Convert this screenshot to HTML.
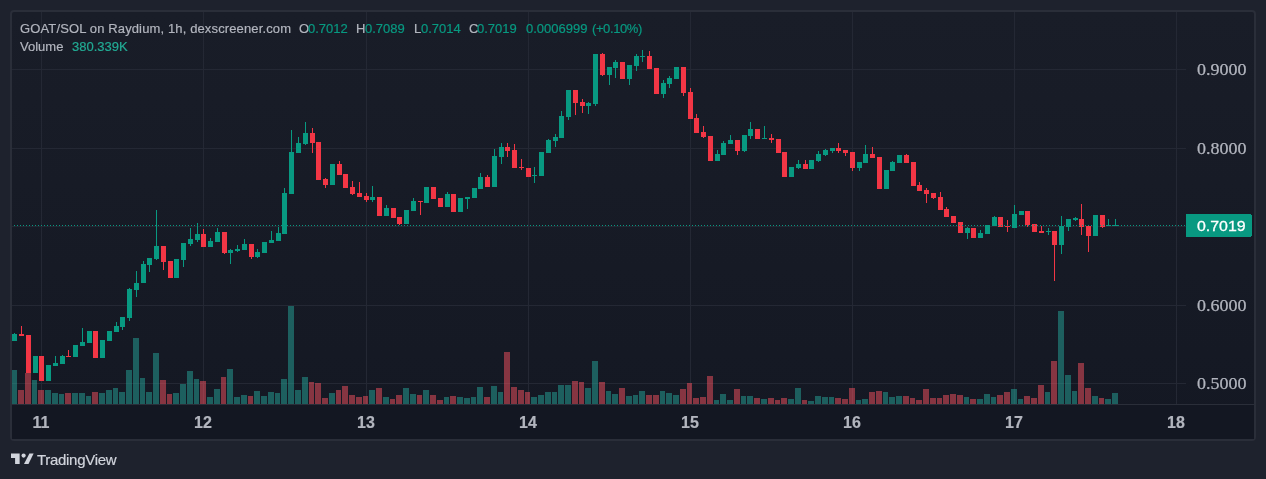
<!DOCTYPE html>
<html><head><meta charset="utf-8"><style>
html,body{margin:0;padding:0;width:1266px;height:479px;overflow:hidden;background:#1e222d;}
#pane{position:absolute;left:10px;top:10px;width:1242px;height:427px;border:2px solid #2a2e39;border-radius:4px;overflow:hidden;
background:linear-gradient(to bottom,#191d28 0%,#141823 100%);}
svg{position:absolute;left:0;top:0;}
.t{position:absolute;font-family:"Liberation Sans",sans-serif;white-space:nowrap;will-change:transform;-webkit-text-stroke:0.2px currentColor;}
</style></head><body>
<div id="pane"></div>
<svg width="1266" height="479" viewBox="0 0 1266 479" shape-rendering="crispEdges">
<rect x="12" y="404" width="1242" height="1" fill="#2a2e39"/>
<rect x="12" y="405" width="1242" height="34" fill="#131722"/>
<rect x="12" y="69" width="1174" height="1" fill="#242834"/>
<rect x="12" y="148" width="1174" height="1" fill="#242834"/>
<rect x="12" y="226" width="1174" height="1" fill="#242834"/>
<rect x="12" y="305" width="1174" height="1" fill="#242834"/>
<rect x="12" y="383" width="1174" height="1" fill="#242834"/>
<rect x="41" y="12" width="1" height="392" fill="#242834"/>
<rect x="203" y="12" width="1" height="392" fill="#242834"/>
<rect x="366" y="12" width="1" height="392" fill="#242834"/>
<rect x="528" y="12" width="1" height="392" fill="#242834"/>
<rect x="690" y="12" width="1" height="392" fill="#242834"/>
<rect x="852" y="12" width="1" height="392" fill="#242834"/>
<rect x="1014" y="12" width="1" height="392" fill="#242834"/>
<rect x="1176" y="12" width="1" height="392" fill="#242834"/>
<rect x="12" y="370" width="5" height="34" fill="rgba(38,166,154,0.5)"/>
<rect x="18" y="390" width="6" height="14" fill="rgba(247,82,95,0.5)"/>
<rect x="25" y="373" width="6" height="31" fill="rgba(247,82,95,0.5)"/>
<rect x="32" y="380" width="5" height="24" fill="rgba(38,166,154,0.5)"/>
<rect x="38" y="390" width="6" height="14" fill="rgba(247,82,95,0.5)"/>
<rect x="45" y="390" width="6" height="14" fill="rgba(38,166,154,0.5)"/>
<rect x="52" y="393" width="6" height="11" fill="rgba(38,166,154,0.5)"/>
<rect x="59" y="394" width="5" height="10" fill="rgba(38,166,154,0.5)"/>
<rect x="65" y="393" width="6" height="11" fill="rgba(247,82,95,0.5)"/>
<rect x="72" y="393" width="6" height="11" fill="rgba(38,166,154,0.5)"/>
<rect x="79" y="393" width="6" height="11" fill="rgba(38,166,154,0.5)"/>
<rect x="86" y="396" width="5" height="8" fill="rgba(38,166,154,0.5)"/>
<rect x="92" y="392" width="6" height="12" fill="rgba(247,82,95,0.5)"/>
<rect x="99" y="393" width="6" height="11" fill="rgba(38,166,154,0.5)"/>
<rect x="106" y="390" width="6" height="14" fill="rgba(38,166,154,0.5)"/>
<rect x="113" y="388" width="5" height="16" fill="rgba(38,166,154,0.5)"/>
<rect x="119" y="392" width="6" height="12" fill="rgba(38,166,154,0.5)"/>
<rect x="126" y="370" width="6" height="34" fill="rgba(38,166,154,0.5)"/>
<rect x="133" y="338" width="6" height="66" fill="rgba(38,166,154,0.5)"/>
<rect x="140" y="378" width="5" height="26" fill="rgba(38,166,154,0.5)"/>
<rect x="146" y="392" width="6" height="12" fill="rgba(38,166,154,0.5)"/>
<rect x="153" y="353" width="6" height="51" fill="rgba(38,166,154,0.5)"/>
<rect x="160" y="380" width="6" height="24" fill="rgba(247,82,95,0.5)"/>
<rect x="167" y="394" width="5" height="10" fill="rgba(247,82,95,0.5)"/>
<rect x="173" y="393" width="6" height="11" fill="rgba(38,166,154,0.5)"/>
<rect x="180" y="384" width="6" height="20" fill="rgba(38,166,154,0.5)"/>
<rect x="187" y="371" width="6" height="33" fill="rgba(38,166,154,0.5)"/>
<rect x="194" y="379" width="5" height="25" fill="rgba(38,166,154,0.5)"/>
<rect x="200" y="381" width="6" height="23" fill="rgba(247,82,95,0.5)"/>
<rect x="207" y="397" width="6" height="7" fill="rgba(38,166,154,0.5)"/>
<rect x="214" y="389" width="6" height="15" fill="rgba(38,166,154,0.5)"/>
<rect x="221" y="377" width="5" height="27" fill="rgba(247,82,95,0.5)"/>
<rect x="227" y="369" width="6" height="35" fill="rgba(38,166,154,0.5)"/>
<rect x="234" y="397" width="6" height="7" fill="rgba(38,166,154,0.5)"/>
<rect x="241" y="395" width="6" height="9" fill="rgba(38,166,154,0.5)"/>
<rect x="248" y="396" width="5" height="8" fill="rgba(247,82,95,0.5)"/>
<rect x="254" y="391" width="6" height="13" fill="rgba(38,166,154,0.5)"/>
<rect x="261" y="396" width="6" height="8" fill="rgba(38,166,154,0.5)"/>
<rect x="268" y="392" width="6" height="12" fill="rgba(38,166,154,0.5)"/>
<rect x="275" y="393" width="5" height="11" fill="rgba(38,166,154,0.5)"/>
<rect x="281" y="379" width="6" height="25" fill="rgba(38,166,154,0.5)"/>
<rect x="288" y="306" width="6" height="98" fill="rgba(38,166,154,0.5)"/>
<rect x="295" y="390" width="6" height="14" fill="rgba(38,166,154,0.5)"/>
<rect x="302" y="377" width="6" height="27" fill="rgba(38,166,154,0.5)"/>
<rect x="309" y="382" width="5" height="22" fill="rgba(247,82,95,0.5)"/>
<rect x="315" y="383" width="6" height="21" fill="rgba(247,82,95,0.5)"/>
<rect x="322" y="398" width="6" height="6" fill="rgba(247,82,95,0.5)"/>
<rect x="329" y="393" width="6" height="11" fill="rgba(38,166,154,0.5)"/>
<rect x="336" y="390" width="5" height="14" fill="rgba(247,82,95,0.5)"/>
<rect x="342" y="386" width="6" height="18" fill="rgba(247,82,95,0.5)"/>
<rect x="349" y="395" width="6" height="9" fill="rgba(247,82,95,0.5)"/>
<rect x="356" y="397" width="6" height="7" fill="rgba(247,82,95,0.5)"/>
<rect x="363" y="396" width="5" height="8" fill="rgba(247,82,95,0.5)"/>
<rect x="369" y="390" width="6" height="14" fill="rgba(38,166,154,0.5)"/>
<rect x="376" y="388" width="6" height="16" fill="rgba(247,82,95,0.5)"/>
<rect x="383" y="397" width="6" height="7" fill="rgba(38,166,154,0.5)"/>
<rect x="390" y="399" width="5" height="5" fill="rgba(247,82,95,0.5)"/>
<rect x="396" y="395" width="6" height="9" fill="rgba(247,82,95,0.5)"/>
<rect x="403" y="388" width="6" height="16" fill="rgba(38,166,154,0.5)"/>
<rect x="410" y="394" width="6" height="10" fill="rgba(38,166,154,0.5)"/>
<rect x="417" y="395" width="5" height="9" fill="rgba(247,82,95,0.5)"/>
<rect x="423" y="390" width="6" height="14" fill="rgba(38,166,154,0.5)"/>
<rect x="430" y="395" width="6" height="9" fill="rgba(247,82,95,0.5)"/>
<rect x="437" y="400" width="6" height="4" fill="rgba(247,82,95,0.5)"/>
<rect x="444" y="397" width="5" height="7" fill="rgba(38,166,154,0.5)"/>
<rect x="450" y="396" width="6" height="8" fill="rgba(247,82,95,0.5)"/>
<rect x="457" y="397" width="6" height="7" fill="rgba(38,166,154,0.5)"/>
<rect x="464" y="398" width="6" height="6" fill="rgba(38,166,154,0.5)"/>
<rect x="471" y="397" width="5" height="7" fill="rgba(38,166,154,0.5)"/>
<rect x="477" y="387" width="6" height="17" fill="rgba(38,166,154,0.5)"/>
<rect x="484" y="397" width="6" height="7" fill="rgba(247,82,95,0.5)"/>
<rect x="491" y="386" width="6" height="18" fill="rgba(38,166,154,0.5)"/>
<rect x="498" y="392" width="5" height="12" fill="rgba(38,166,154,0.5)"/>
<rect x="504" y="352" width="6" height="52" fill="rgba(247,82,95,0.5)"/>
<rect x="511" y="387" width="6" height="17" fill="rgba(247,82,95,0.5)"/>
<rect x="518" y="390" width="6" height="14" fill="rgba(247,82,95,0.5)"/>
<rect x="525" y="392" width="5" height="12" fill="rgba(247,82,95,0.5)"/>
<rect x="531" y="397" width="6" height="7" fill="rgba(38,166,154,0.5)"/>
<rect x="538" y="395" width="6" height="9" fill="rgba(38,166,154,0.5)"/>
<rect x="545" y="392" width="6" height="12" fill="rgba(38,166,154,0.5)"/>
<rect x="552" y="392" width="5" height="12" fill="rgba(38,166,154,0.5)"/>
<rect x="558" y="385" width="6" height="19" fill="rgba(38,166,154,0.5)"/>
<rect x="565" y="385" width="6" height="19" fill="rgba(38,166,154,0.5)"/>
<rect x="572" y="381" width="6" height="23" fill="rgba(247,82,95,0.5)"/>
<rect x="579" y="382" width="5" height="22" fill="rgba(247,82,95,0.5)"/>
<rect x="585" y="388" width="6" height="16" fill="rgba(38,166,154,0.5)"/>
<rect x="592" y="361" width="6" height="43" fill="rgba(38,166,154,0.5)"/>
<rect x="599" y="382" width="6" height="22" fill="rgba(247,82,95,0.5)"/>
<rect x="606" y="391" width="5" height="13" fill="rgba(38,166,154,0.5)"/>
<rect x="612" y="394" width="6" height="10" fill="rgba(38,166,154,0.5)"/>
<rect x="619" y="388" width="6" height="16" fill="rgba(247,82,95,0.5)"/>
<rect x="626" y="396" width="6" height="8" fill="rgba(38,166,154,0.5)"/>
<rect x="633" y="395" width="5" height="9" fill="rgba(38,166,154,0.5)"/>
<rect x="639" y="391" width="6" height="13" fill="rgba(38,166,154,0.5)"/>
<rect x="646" y="395" width="6" height="9" fill="rgba(247,82,95,0.5)"/>
<rect x="653" y="395" width="6" height="9" fill="rgba(247,82,95,0.5)"/>
<rect x="660" y="391" width="5" height="13" fill="rgba(38,166,154,0.5)"/>
<rect x="666" y="393" width="6" height="11" fill="rgba(38,166,154,0.5)"/>
<rect x="673" y="395" width="6" height="9" fill="rgba(38,166,154,0.5)"/>
<rect x="680" y="389" width="6" height="15" fill="rgba(247,82,95,0.5)"/>
<rect x="687" y="383" width="5" height="21" fill="rgba(247,82,95,0.5)"/>
<rect x="693" y="398" width="6" height="6" fill="rgba(247,82,95,0.5)"/>
<rect x="700" y="397" width="6" height="7" fill="rgba(247,82,95,0.5)"/>
<rect x="707" y="376" width="6" height="28" fill="rgba(247,82,95,0.5)"/>
<rect x="714" y="400" width="5" height="4" fill="rgba(38,166,154,0.5)"/>
<rect x="720" y="394" width="6" height="10" fill="rgba(38,166,154,0.5)"/>
<rect x="727" y="400" width="6" height="4" fill="rgba(38,166,154,0.5)"/>
<rect x="734" y="389" width="6" height="15" fill="rgba(247,82,95,0.5)"/>
<rect x="741" y="396" width="5" height="8" fill="rgba(38,166,154,0.5)"/>
<rect x="747" y="396" width="6" height="8" fill="rgba(38,166,154,0.5)"/>
<rect x="754" y="398" width="6" height="6" fill="rgba(247,82,95,0.5)"/>
<rect x="761" y="399" width="6" height="5" fill="rgba(38,166,154,0.5)"/>
<rect x="768" y="398" width="6" height="6" fill="rgba(247,82,95,0.5)"/>
<rect x="775" y="400" width="5" height="4" fill="rgba(247,82,95,0.5)"/>
<rect x="781" y="398" width="6" height="6" fill="rgba(247,82,95,0.5)"/>
<rect x="788" y="399" width="6" height="5" fill="rgba(38,166,154,0.5)"/>
<rect x="795" y="388" width="6" height="16" fill="rgba(38,166,154,0.5)"/>
<rect x="802" y="400" width="5" height="4" fill="rgba(247,82,95,0.5)"/>
<rect x="808" y="401" width="6" height="3" fill="rgba(38,166,154,0.5)"/>
<rect x="815" y="396" width="6" height="8" fill="rgba(38,166,154,0.5)"/>
<rect x="822" y="397" width="6" height="7" fill="rgba(38,166,154,0.5)"/>
<rect x="829" y="397" width="5" height="7" fill="rgba(38,166,154,0.5)"/>
<rect x="835" y="398" width="6" height="6" fill="rgba(247,82,95,0.5)"/>
<rect x="842" y="399" width="6" height="5" fill="rgba(247,82,95,0.5)"/>
<rect x="849" y="388" width="6" height="16" fill="rgba(247,82,95,0.5)"/>
<rect x="856" y="400" width="5" height="4" fill="rgba(38,166,154,0.5)"/>
<rect x="862" y="399" width="6" height="5" fill="rgba(38,166,154,0.5)"/>
<rect x="869" y="392" width="6" height="12" fill="rgba(247,82,95,0.5)"/>
<rect x="876" y="391" width="6" height="13" fill="rgba(247,82,95,0.5)"/>
<rect x="883" y="392" width="5" height="12" fill="rgba(38,166,154,0.5)"/>
<rect x="889" y="397" width="6" height="7" fill="rgba(38,166,154,0.5)"/>
<rect x="896" y="396" width="6" height="8" fill="rgba(38,166,154,0.5)"/>
<rect x="903" y="396" width="6" height="8" fill="rgba(247,82,95,0.5)"/>
<rect x="910" y="398" width="5" height="6" fill="rgba(247,82,95,0.5)"/>
<rect x="916" y="400" width="6" height="4" fill="rgba(247,82,95,0.5)"/>
<rect x="923" y="389" width="6" height="15" fill="rgba(247,82,95,0.5)"/>
<rect x="930" y="398" width="6" height="6" fill="rgba(247,82,95,0.5)"/>
<rect x="937" y="398" width="5" height="6" fill="rgba(247,82,95,0.5)"/>
<rect x="943" y="395" width="6" height="9" fill="rgba(247,82,95,0.5)"/>
<rect x="950" y="394" width="6" height="10" fill="rgba(247,82,95,0.5)"/>
<rect x="957" y="395" width="6" height="9" fill="rgba(247,82,95,0.5)"/>
<rect x="964" y="397" width="5" height="7" fill="rgba(38,166,154,0.5)"/>
<rect x="970" y="399" width="6" height="5" fill="rgba(247,82,95,0.5)"/>
<rect x="977" y="399" width="6" height="5" fill="rgba(38,166,154,0.5)"/>
<rect x="984" y="394" width="6" height="10" fill="rgba(38,166,154,0.5)"/>
<rect x="991" y="397" width="5" height="7" fill="rgba(38,166,154,0.5)"/>
<rect x="997" y="395" width="6" height="9" fill="rgba(247,82,95,0.5)"/>
<rect x="1004" y="392" width="6" height="12" fill="rgba(247,82,95,0.5)"/>
<rect x="1011" y="389" width="6" height="15" fill="rgba(38,166,154,0.5)"/>
<rect x="1018" y="399" width="5" height="5" fill="rgba(38,166,154,0.5)"/>
<rect x="1024" y="396" width="6" height="8" fill="rgba(247,82,95,0.5)"/>
<rect x="1031" y="398" width="6" height="6" fill="rgba(247,82,95,0.5)"/>
<rect x="1038" y="385" width="6" height="19" fill="rgba(247,82,95,0.5)"/>
<rect x="1045" y="392" width="5" height="12" fill="rgba(38,166,154,0.5)"/>
<rect x="1051" y="361" width="6" height="43" fill="rgba(247,82,95,0.5)"/>
<rect x="1058" y="311" width="6" height="93" fill="rgba(38,166,154,0.5)"/>
<rect x="1065" y="375" width="6" height="29" fill="rgba(38,166,154,0.5)"/>
<rect x="1072" y="391" width="5" height="13" fill="rgba(38,166,154,0.5)"/>
<rect x="1078" y="363" width="6" height="41" fill="rgba(247,82,95,0.5)"/>
<rect x="1085" y="388" width="6" height="16" fill="rgba(247,82,95,0.5)"/>
<rect x="1092" y="396" width="6" height="8" fill="rgba(38,166,154,0.5)"/>
<rect x="1099" y="398" width="5" height="6" fill="rgba(247,82,95,0.5)"/>
<rect x="1105" y="399" width="6" height="5" fill="rgba(38,166,154,0.5)"/>
<rect x="1112" y="393" width="6" height="11" fill="rgba(38,166,154,0.5)"/>
<rect x="14" y="333" width="1" height="8" fill="#089981"/>
<rect x="12" y="334" width="5" height="7" fill="#089981"/>
<rect x="21" y="326" width="1" height="10" fill="#f23645"/>
<rect x="19" y="334" width="5" height="2" fill="#f23645"/>
<rect x="28" y="335" width="1" height="38" fill="#f23645"/>
<rect x="26" y="335" width="5" height="38" fill="#f23645"/>
<rect x="35" y="356" width="1" height="17" fill="#089981"/>
<rect x="33" y="356" width="5" height="17" fill="#089981"/>
<rect x="41" y="356" width="1" height="25" fill="#f23645"/>
<rect x="39" y="356" width="5" height="25" fill="#f23645"/>
<rect x="48" y="365" width="1" height="16" fill="#089981"/>
<rect x="46" y="365" width="5" height="16" fill="#089981"/>
<rect x="55" y="356" width="1" height="10" fill="#089981"/>
<rect x="53" y="363" width="5" height="3" fill="#089981"/>
<rect x="62" y="355" width="1" height="9" fill="#089981"/>
<rect x="60" y="356" width="5" height="8" fill="#089981"/>
<rect x="68" y="350" width="1" height="7" fill="#f23645"/>
<rect x="66" y="356" width="5" height="1" fill="#f23645"/>
<rect x="75" y="345" width="1" height="12" fill="#089981"/>
<rect x="73" y="345" width="5" height="12" fill="#089981"/>
<rect x="82" y="328" width="1" height="18" fill="#089981"/>
<rect x="80" y="342" width="5" height="4" fill="#089981"/>
<rect x="89" y="331" width="1" height="12" fill="#089981"/>
<rect x="87" y="331" width="5" height="12" fill="#089981"/>
<rect x="95" y="331" width="1" height="27" fill="#f23645"/>
<rect x="93" y="331" width="5" height="27" fill="#f23645"/>
<rect x="102" y="340" width="1" height="18" fill="#089981"/>
<rect x="100" y="340" width="5" height="18" fill="#089981"/>
<rect x="109" y="331" width="1" height="10" fill="#089981"/>
<rect x="107" y="331" width="5" height="10" fill="#089981"/>
<rect x="116" y="322" width="1" height="10" fill="#089981"/>
<rect x="114" y="326" width="5" height="6" fill="#089981"/>
<rect x="122" y="317" width="1" height="13" fill="#089981"/>
<rect x="120" y="317" width="5" height="10" fill="#089981"/>
<rect x="129" y="288" width="1" height="33" fill="#089981"/>
<rect x="127" y="289" width="5" height="29" fill="#089981"/>
<rect x="136" y="271" width="1" height="26" fill="#089981"/>
<rect x="134" y="283" width="5" height="7" fill="#089981"/>
<rect x="143" y="261" width="1" height="22" fill="#089981"/>
<rect x="141" y="264" width="5" height="19" fill="#089981"/>
<rect x="149" y="258" width="1" height="14" fill="#089981"/>
<rect x="147" y="258" width="5" height="7" fill="#089981"/>
<rect x="156" y="210" width="1" height="50" fill="#089981"/>
<rect x="154" y="246" width="5" height="13" fill="#089981"/>
<rect x="163" y="246" width="1" height="24" fill="#f23645"/>
<rect x="161" y="246" width="5" height="16" fill="#f23645"/>
<rect x="170" y="261" width="1" height="17" fill="#f23645"/>
<rect x="168" y="261" width="5" height="17" fill="#f23645"/>
<rect x="176" y="259" width="1" height="19" fill="#089981"/>
<rect x="174" y="259" width="5" height="19" fill="#089981"/>
<rect x="183" y="243" width="1" height="24" fill="#089981"/>
<rect x="181" y="243" width="5" height="17" fill="#089981"/>
<rect x="190" y="228" width="1" height="18" fill="#089981"/>
<rect x="188" y="239" width="5" height="5" fill="#089981"/>
<rect x="197" y="223" width="1" height="19" fill="#089981"/>
<rect x="195" y="234" width="5" height="6" fill="#089981"/>
<rect x="203" y="229" width="1" height="18" fill="#f23645"/>
<rect x="201" y="234" width="5" height="13" fill="#f23645"/>
<rect x="210" y="238" width="1" height="9" fill="#089981"/>
<rect x="208" y="241" width="5" height="6" fill="#089981"/>
<rect x="217" y="228" width="1" height="14" fill="#089981"/>
<rect x="215" y="232" width="5" height="10" fill="#089981"/>
<rect x="224" y="232" width="1" height="22" fill="#f23645"/>
<rect x="222" y="232" width="5" height="21" fill="#f23645"/>
<rect x="230" y="249" width="1" height="15" fill="#089981"/>
<rect x="228" y="250" width="5" height="3" fill="#089981"/>
<rect x="237" y="245" width="1" height="7" fill="#089981"/>
<rect x="235" y="249" width="5" height="2" fill="#089981"/>
<rect x="244" y="239" width="1" height="11" fill="#089981"/>
<rect x="242" y="244" width="5" height="6" fill="#089981"/>
<rect x="251" y="244" width="1" height="15" fill="#f23645"/>
<rect x="249" y="244" width="5" height="13" fill="#f23645"/>
<rect x="257" y="249" width="1" height="9" fill="#089981"/>
<rect x="255" y="252" width="5" height="5" fill="#089981"/>
<rect x="264" y="242" width="1" height="11" fill="#089981"/>
<rect x="262" y="242" width="5" height="11" fill="#089981"/>
<rect x="271" y="231" width="1" height="12" fill="#089981"/>
<rect x="269" y="240" width="5" height="3" fill="#089981"/>
<rect x="278" y="227" width="1" height="14" fill="#089981"/>
<rect x="276" y="233" width="5" height="8" fill="#089981"/>
<rect x="284" y="188" width="1" height="46" fill="#089981"/>
<rect x="282" y="193" width="5" height="41" fill="#089981"/>
<rect x="291" y="130" width="1" height="64" fill="#089981"/>
<rect x="289" y="152" width="5" height="42" fill="#089981"/>
<rect x="298" y="137" width="1" height="16" fill="#089981"/>
<rect x="296" y="143" width="5" height="10" fill="#089981"/>
<rect x="305" y="122" width="1" height="23" fill="#089981"/>
<rect x="303" y="133" width="5" height="11" fill="#089981"/>
<rect x="312" y="128" width="1" height="25" fill="#f23645"/>
<rect x="310" y="133" width="5" height="10" fill="#f23645"/>
<rect x="318" y="142" width="1" height="38" fill="#f23645"/>
<rect x="316" y="142" width="5" height="38" fill="#f23645"/>
<rect x="325" y="178" width="1" height="10" fill="#f23645"/>
<rect x="323" y="179" width="5" height="6" fill="#f23645"/>
<rect x="332" y="164" width="1" height="21" fill="#089981"/>
<rect x="330" y="164" width="5" height="21" fill="#089981"/>
<rect x="339" y="161" width="1" height="14" fill="#f23645"/>
<rect x="337" y="164" width="5" height="11" fill="#f23645"/>
<rect x="345" y="174" width="1" height="14" fill="#f23645"/>
<rect x="343" y="174" width="5" height="14" fill="#f23645"/>
<rect x="352" y="181" width="1" height="14" fill="#f23645"/>
<rect x="350" y="187" width="5" height="7" fill="#f23645"/>
<rect x="359" y="182" width="1" height="15" fill="#f23645"/>
<rect x="357" y="193" width="5" height="4" fill="#f23645"/>
<rect x="366" y="193" width="1" height="9" fill="#f23645"/>
<rect x="364" y="196" width="5" height="4" fill="#f23645"/>
<rect x="372" y="186" width="1" height="16" fill="#089981"/>
<rect x="370" y="197" width="5" height="3" fill="#089981"/>
<rect x="379" y="197" width="1" height="19" fill="#f23645"/>
<rect x="377" y="197" width="5" height="19" fill="#f23645"/>
<rect x="386" y="205" width="1" height="11" fill="#089981"/>
<rect x="384" y="208" width="5" height="8" fill="#089981"/>
<rect x="393" y="208" width="1" height="10" fill="#f23645"/>
<rect x="391" y="208" width="5" height="10" fill="#f23645"/>
<rect x="399" y="217" width="1" height="8" fill="#f23645"/>
<rect x="397" y="217" width="5" height="7" fill="#f23645"/>
<rect x="406" y="210" width="1" height="14" fill="#089981"/>
<rect x="404" y="210" width="5" height="14" fill="#089981"/>
<rect x="413" y="198" width="1" height="13" fill="#089981"/>
<rect x="411" y="201" width="5" height="10" fill="#089981"/>
<rect x="420" y="201" width="1" height="14" fill="#f23645"/>
<rect x="418" y="201" width="5" height="1" fill="#f23645"/>
<rect x="426" y="187" width="1" height="16" fill="#089981"/>
<rect x="424" y="187" width="5" height="16" fill="#089981"/>
<rect x="433" y="187" width="1" height="12" fill="#f23645"/>
<rect x="431" y="187" width="5" height="12" fill="#f23645"/>
<rect x="440" y="198" width="1" height="9" fill="#f23645"/>
<rect x="438" y="198" width="5" height="9" fill="#f23645"/>
<rect x="447" y="192" width="1" height="15" fill="#089981"/>
<rect x="445" y="194" width="5" height="13" fill="#089981"/>
<rect x="453" y="194" width="1" height="18" fill="#f23645"/>
<rect x="451" y="194" width="5" height="18" fill="#f23645"/>
<rect x="460" y="198" width="1" height="14" fill="#089981"/>
<rect x="458" y="198" width="5" height="14" fill="#089981"/>
<rect x="467" y="197" width="1" height="12" fill="#089981"/>
<rect x="465" y="197" width="5" height="2" fill="#089981"/>
<rect x="474" y="188" width="1" height="10" fill="#089981"/>
<rect x="472" y="188" width="5" height="10" fill="#089981"/>
<rect x="480" y="173" width="1" height="16" fill="#089981"/>
<rect x="478" y="177" width="5" height="12" fill="#089981"/>
<rect x="487" y="175" width="1" height="12" fill="#f23645"/>
<rect x="485" y="177" width="5" height="10" fill="#f23645"/>
<rect x="494" y="149" width="1" height="38" fill="#089981"/>
<rect x="492" y="156" width="5" height="31" fill="#089981"/>
<rect x="501" y="143" width="1" height="21" fill="#089981"/>
<rect x="499" y="147" width="5" height="10" fill="#089981"/>
<rect x="507" y="143" width="1" height="14" fill="#f23645"/>
<rect x="505" y="147" width="5" height="4" fill="#f23645"/>
<rect x="514" y="144" width="1" height="24" fill="#f23645"/>
<rect x="512" y="150" width="5" height="18" fill="#f23645"/>
<rect x="521" y="159" width="1" height="11" fill="#f23645"/>
<rect x="519" y="167" width="5" height="1" fill="#f23645"/>
<rect x="528" y="168" width="1" height="9" fill="#f23645"/>
<rect x="526" y="168" width="5" height="9" fill="#f23645"/>
<rect x="534" y="167" width="1" height="16" fill="#089981"/>
<rect x="532" y="175" width="5" height="1" fill="#089981"/>
<rect x="541" y="152" width="1" height="24" fill="#089981"/>
<rect x="539" y="152" width="5" height="24" fill="#089981"/>
<rect x="548" y="139" width="1" height="14" fill="#089981"/>
<rect x="546" y="140" width="5" height="13" fill="#089981"/>
<rect x="555" y="134" width="1" height="13" fill="#089981"/>
<rect x="553" y="137" width="5" height="4" fill="#089981"/>
<rect x="561" y="111" width="1" height="27" fill="#089981"/>
<rect x="559" y="116" width="5" height="22" fill="#089981"/>
<rect x="568" y="90" width="1" height="30" fill="#089981"/>
<rect x="566" y="90" width="5" height="27" fill="#089981"/>
<rect x="575" y="90" width="1" height="25" fill="#f23645"/>
<rect x="573" y="90" width="5" height="13" fill="#f23645"/>
<rect x="582" y="99" width="1" height="14" fill="#f23645"/>
<rect x="580" y="102" width="5" height="4" fill="#f23645"/>
<rect x="588" y="102" width="1" height="12" fill="#089981"/>
<rect x="586" y="103" width="5" height="3" fill="#089981"/>
<rect x="595" y="54" width="1" height="52" fill="#089981"/>
<rect x="593" y="54" width="5" height="50" fill="#089981"/>
<rect x="602" y="53" width="1" height="23" fill="#f23645"/>
<rect x="600" y="54" width="5" height="21" fill="#f23645"/>
<rect x="609" y="67" width="1" height="18" fill="#089981"/>
<rect x="607" y="67" width="5" height="8" fill="#089981"/>
<rect x="615" y="60" width="1" height="18" fill="#089981"/>
<rect x="613" y="62" width="5" height="6" fill="#089981"/>
<rect x="622" y="62" width="1" height="17" fill="#f23645"/>
<rect x="620" y="62" width="5" height="17" fill="#f23645"/>
<rect x="629" y="65" width="1" height="20" fill="#089981"/>
<rect x="627" y="65" width="5" height="14" fill="#089981"/>
<rect x="636" y="54" width="1" height="17" fill="#089981"/>
<rect x="634" y="56" width="5" height="10" fill="#089981"/>
<rect x="642" y="50" width="1" height="12" fill="#089981"/>
<rect x="640" y="56" width="5" height="1" fill="#089981"/>
<rect x="649" y="51" width="1" height="18" fill="#f23645"/>
<rect x="647" y="56" width="5" height="13" fill="#f23645"/>
<rect x="656" y="68" width="1" height="26" fill="#f23645"/>
<rect x="654" y="68" width="5" height="26" fill="#f23645"/>
<rect x="663" y="80" width="1" height="18" fill="#089981"/>
<rect x="661" y="83" width="5" height="11" fill="#089981"/>
<rect x="669" y="76" width="1" height="12" fill="#089981"/>
<rect x="667" y="78" width="5" height="6" fill="#089981"/>
<rect x="676" y="67" width="1" height="12" fill="#089981"/>
<rect x="674" y="67" width="5" height="12" fill="#089981"/>
<rect x="683" y="67" width="1" height="29" fill="#f23645"/>
<rect x="681" y="67" width="5" height="26" fill="#f23645"/>
<rect x="690" y="88" width="1" height="31" fill="#f23645"/>
<rect x="688" y="92" width="5" height="27" fill="#f23645"/>
<rect x="696" y="114" width="1" height="19" fill="#f23645"/>
<rect x="694" y="118" width="5" height="15" fill="#f23645"/>
<rect x="703" y="126" width="1" height="12" fill="#f23645"/>
<rect x="701" y="132" width="5" height="5" fill="#f23645"/>
<rect x="710" y="136" width="1" height="25" fill="#f23645"/>
<rect x="708" y="136" width="5" height="25" fill="#f23645"/>
<rect x="717" y="150" width="1" height="11" fill="#089981"/>
<rect x="715" y="154" width="5" height="7" fill="#089981"/>
<rect x="723" y="141" width="1" height="14" fill="#089981"/>
<rect x="721" y="143" width="5" height="12" fill="#089981"/>
<rect x="730" y="135" width="1" height="9" fill="#089981"/>
<rect x="728" y="140" width="5" height="4" fill="#089981"/>
<rect x="737" y="140" width="1" height="15" fill="#f23645"/>
<rect x="735" y="140" width="5" height="11" fill="#f23645"/>
<rect x="744" y="135" width="1" height="17" fill="#089981"/>
<rect x="742" y="135" width="5" height="16" fill="#089981"/>
<rect x="750" y="122" width="1" height="17" fill="#089981"/>
<rect x="748" y="129" width="5" height="7" fill="#089981"/>
<rect x="757" y="129" width="1" height="10" fill="#f23645"/>
<rect x="755" y="129" width="5" height="10" fill="#f23645"/>
<rect x="764" y="126" width="1" height="13" fill="#089981"/>
<rect x="762" y="138" width="5" height="1" fill="#089981"/>
<rect x="771" y="134" width="1" height="9" fill="#f23645"/>
<rect x="769" y="138" width="5" height="2" fill="#f23645"/>
<rect x="778" y="139" width="1" height="14" fill="#f23645"/>
<rect x="776" y="139" width="5" height="14" fill="#f23645"/>
<rect x="784" y="152" width="1" height="25" fill="#f23645"/>
<rect x="782" y="152" width="5" height="25" fill="#f23645"/>
<rect x="791" y="167" width="1" height="10" fill="#089981"/>
<rect x="789" y="167" width="5" height="10" fill="#089981"/>
<rect x="798" y="160" width="1" height="9" fill="#089981"/>
<rect x="796" y="164" width="5" height="4" fill="#089981"/>
<rect x="805" y="160" width="1" height="9" fill="#f23645"/>
<rect x="803" y="164" width="5" height="5" fill="#f23645"/>
<rect x="811" y="160" width="1" height="9" fill="#089981"/>
<rect x="809" y="160" width="5" height="9" fill="#089981"/>
<rect x="818" y="151" width="1" height="11" fill="#089981"/>
<rect x="816" y="154" width="5" height="7" fill="#089981"/>
<rect x="825" y="149" width="1" height="7" fill="#089981"/>
<rect x="823" y="150" width="5" height="5" fill="#089981"/>
<rect x="832" y="148" width="1" height="5" fill="#089981"/>
<rect x="830" y="148" width="5" height="3" fill="#089981"/>
<rect x="838" y="143" width="1" height="10" fill="#f23645"/>
<rect x="836" y="148" width="5" height="3" fill="#f23645"/>
<rect x="845" y="150" width="1" height="6" fill="#f23645"/>
<rect x="843" y="150" width="5" height="3" fill="#f23645"/>
<rect x="852" y="152" width="1" height="19" fill="#f23645"/>
<rect x="850" y="152" width="5" height="16" fill="#f23645"/>
<rect x="859" y="162" width="1" height="9" fill="#089981"/>
<rect x="857" y="162" width="5" height="6" fill="#089981"/>
<rect x="865" y="145" width="1" height="18" fill="#089981"/>
<rect x="863" y="154" width="5" height="9" fill="#089981"/>
<rect x="872" y="147" width="1" height="11" fill="#f23645"/>
<rect x="870" y="154" width="5" height="4" fill="#f23645"/>
<rect x="879" y="157" width="1" height="32" fill="#f23645"/>
<rect x="877" y="157" width="5" height="32" fill="#f23645"/>
<rect x="886" y="170" width="1" height="19" fill="#089981"/>
<rect x="884" y="170" width="5" height="19" fill="#089981"/>
<rect x="892" y="161" width="1" height="10" fill="#089981"/>
<rect x="890" y="162" width="5" height="9" fill="#089981"/>
<rect x="899" y="155" width="1" height="8" fill="#089981"/>
<rect x="897" y="155" width="5" height="8" fill="#089981"/>
<rect x="906" y="154" width="1" height="9" fill="#f23645"/>
<rect x="904" y="155" width="5" height="8" fill="#f23645"/>
<rect x="913" y="162" width="1" height="24" fill="#f23645"/>
<rect x="911" y="162" width="5" height="24" fill="#f23645"/>
<rect x="919" y="182" width="1" height="9" fill="#f23645"/>
<rect x="917" y="185" width="5" height="6" fill="#f23645"/>
<rect x="926" y="188" width="1" height="15" fill="#f23645"/>
<rect x="924" y="190" width="5" height="4" fill="#f23645"/>
<rect x="933" y="193" width="1" height="6" fill="#f23645"/>
<rect x="931" y="193" width="5" height="5" fill="#f23645"/>
<rect x="940" y="192" width="1" height="18" fill="#f23645"/>
<rect x="938" y="197" width="5" height="13" fill="#f23645"/>
<rect x="946" y="207" width="1" height="10" fill="#f23645"/>
<rect x="944" y="209" width="5" height="8" fill="#f23645"/>
<rect x="953" y="216" width="1" height="7" fill="#f23645"/>
<rect x="951" y="216" width="5" height="7" fill="#f23645"/>
<rect x="960" y="222" width="1" height="11" fill="#f23645"/>
<rect x="958" y="222" width="5" height="11" fill="#f23645"/>
<rect x="967" y="227" width="1" height="12" fill="#089981"/>
<rect x="965" y="228" width="5" height="5" fill="#089981"/>
<rect x="973" y="228" width="1" height="10" fill="#f23645"/>
<rect x="971" y="228" width="5" height="10" fill="#f23645"/>
<rect x="980" y="230" width="1" height="8" fill="#089981"/>
<rect x="978" y="233" width="5" height="5" fill="#089981"/>
<rect x="987" y="225" width="1" height="9" fill="#089981"/>
<rect x="985" y="225" width="5" height="9" fill="#089981"/>
<rect x="994" y="216" width="1" height="10" fill="#089981"/>
<rect x="992" y="217" width="5" height="9" fill="#089981"/>
<rect x="1000" y="217" width="1" height="10" fill="#f23645"/>
<rect x="998" y="217" width="5" height="10" fill="#f23645"/>
<rect x="1007" y="220" width="1" height="12" fill="#f23645"/>
<rect x="1005" y="226" width="5" height="1" fill="#f23645"/>
<rect x="1014" y="205" width="1" height="23" fill="#089981"/>
<rect x="1012" y="214" width="5" height="14" fill="#089981"/>
<rect x="1021" y="211" width="1" height="4" fill="#089981"/>
<rect x="1019" y="211" width="5" height="4" fill="#089981"/>
<rect x="1027" y="211" width="1" height="16" fill="#f23645"/>
<rect x="1025" y="211" width="5" height="14" fill="#f23645"/>
<rect x="1034" y="224" width="1" height="8" fill="#f23645"/>
<rect x="1032" y="224" width="5" height="8" fill="#f23645"/>
<rect x="1041" y="226" width="1" height="7" fill="#f23645"/>
<rect x="1039" y="231" width="5" height="2" fill="#f23645"/>
<rect x="1048" y="228" width="1" height="7" fill="#089981"/>
<rect x="1046" y="231" width="5" height="1" fill="#089981"/>
<rect x="1054" y="231" width="1" height="50" fill="#f23645"/>
<rect x="1052" y="231" width="5" height="14" fill="#f23645"/>
<rect x="1061" y="216" width="1" height="38" fill="#089981"/>
<rect x="1059" y="226" width="5" height="19" fill="#089981"/>
<rect x="1068" y="219" width="1" height="12" fill="#089981"/>
<rect x="1066" y="219" width="5" height="8" fill="#089981"/>
<rect x="1075" y="217" width="1" height="4" fill="#089981"/>
<rect x="1073" y="218" width="5" height="2" fill="#089981"/>
<rect x="1081" y="204" width="1" height="31" fill="#f23645"/>
<rect x="1079" y="219" width="5" height="8" fill="#f23645"/>
<rect x="1088" y="226" width="1" height="26" fill="#f23645"/>
<rect x="1086" y="226" width="5" height="10" fill="#f23645"/>
<rect x="1095" y="215" width="1" height="21" fill="#089981"/>
<rect x="1093" y="215" width="5" height="21" fill="#089981"/>
<rect x="1102" y="215" width="1" height="13" fill="#f23645"/>
<rect x="1100" y="215" width="5" height="12" fill="#f23645"/>
<rect x="1108" y="219" width="1" height="7" fill="#089981"/>
<rect x="1106" y="225" width="5" height="1" fill="#089981"/>
<rect x="1115" y="219" width="1" height="7" fill="#089981"/>
<rect x="1113" y="225" width="5" height="1" fill="#089981"/>
<line x1="12" y1="225.5" x2="1186" y2="225.5" stroke="#089981" stroke-width="1" stroke-dasharray="1 2" stroke-dashoffset="1"/>
<path d="M1186 214 H1249 Q1252 214 1252 217 V234 Q1252 237 1249 237 H1186 Z" fill="#089981"/>
<g fill="#d1d4dc" shape-rendering="geometricPrecision"><path d="M11 453.4 H19.65 V464.1 H15.1 V457.9 H11 Z"/><circle cx="23.6" cy="455.6" r="2.1"/><path d="M29.4 453.4 H33.6 L28.5 464.1 H24 Z"/></g>
</svg>
<div class="t" style="left:20px;top:20.5px;font-size:13px;letter-spacing:0.13px;color:#b2b5be;">GOAT/SOL on Raydium, 1h, dexscreener.com</div>
<div class="t" style="left:299px;top:20.5px;font-size:13px;color:#b2b5be;">O</div>
<div class="t" style="left:308px;top:20.5px;font-size:13px;color:#089981;">0.7012</div>
<div class="t" style="left:356px;top:20.5px;font-size:13px;color:#b2b5be;">H</div>
<div class="t" style="left:365px;top:20.5px;font-size:13px;color:#089981;">0.7089</div>
<div class="t" style="left:414px;top:20.5px;font-size:13px;color:#b2b5be;">L</div>
<div class="t" style="left:421px;top:20.5px;font-size:13px;color:#089981;">0.7014</div>
<div class="t" style="left:469px;top:20.5px;font-size:13px;color:#b2b5be;">C</div>
<div class="t" style="left:477px;top:20.5px;font-size:13px;color:#089981;">0.7019</div>
<div class="t" style="left:526px;top:20.5px;font-size:13px;color:#089981;">0.0006999</div>
<div class="t" style="left:592px;top:20.5px;font-size:13px;letter-spacing:-0.4px;color:#089981;">(+0.10%)</div>
<div class="t" style="left:20px;top:39px;font-size:13px;color:#b2b5be;">Volume</div>
<div class="t" style="left:72px;top:39px;font-size:13px;color:#22ab94;">380.339K</div>
<div class="t" style="left:1197px;top:60px;font-family:'Liberation Serif',serif;font-size:16.5px;color:#b2b5be;-webkit-text-stroke:0.25px #b2b5be;transform:scaleX(1.09);transform-origin:0 0;">0.9000</div>
<div class="t" style="left:1197px;top:139px;font-family:'Liberation Serif',serif;font-size:16.5px;color:#b2b5be;-webkit-text-stroke:0.25px #b2b5be;transform:scaleX(1.09);transform-origin:0 0;">0.8000</div>
<div class="t" style="left:1197px;top:296px;font-family:'Liberation Serif',serif;font-size:16.5px;color:#b2b5be;-webkit-text-stroke:0.25px #b2b5be;transform:scaleX(1.09);transform-origin:0 0;">0.6000</div>
<div class="t" style="left:1197px;top:374px;font-family:'Liberation Serif',serif;font-size:16.5px;color:#b2b5be;-webkit-text-stroke:0.25px #b2b5be;transform:scaleX(1.09);transform-origin:0 0;">0.5000</div>
<div class="t" style="left:1197px;top:217px;font-size:15.3px;color:#ffffff;-webkit-text-stroke:0.3px #ffffff;transform:scaleX(1.04);transform-origin:0 0;">0.7019</div>
<div class="t" style="left:21px;width:40px;text-align:center;top:414px;font-size:16px;font-weight:bold;color:#b2b5be;">11</div>
<div class="t" style="left:183px;width:40px;text-align:center;top:414px;font-size:16px;font-weight:bold;color:#b2b5be;">12</div>
<div class="t" style="left:346px;width:40px;text-align:center;top:414px;font-size:16px;font-weight:bold;color:#b2b5be;">13</div>
<div class="t" style="left:508px;width:40px;text-align:center;top:414px;font-size:16px;font-weight:bold;color:#b2b5be;">14</div>
<div class="t" style="left:670px;width:40px;text-align:center;top:414px;font-size:16px;font-weight:bold;color:#b2b5be;">15</div>
<div class="t" style="left:832px;width:40px;text-align:center;top:414px;font-size:16px;font-weight:bold;color:#b2b5be;">16</div>
<div class="t" style="left:994px;width:40px;text-align:center;top:414px;font-size:16px;font-weight:bold;color:#b2b5be;">17</div>
<div class="t" style="left:1156px;width:40px;text-align:center;top:414px;font-size:16px;font-weight:bold;color:#b2b5be;">18</div>
<div class="t" style="left:37px;top:451px;font-size:15px;letter-spacing:-0.3px;color:#d1d4dc;">TradingView</div>
</body></html>
